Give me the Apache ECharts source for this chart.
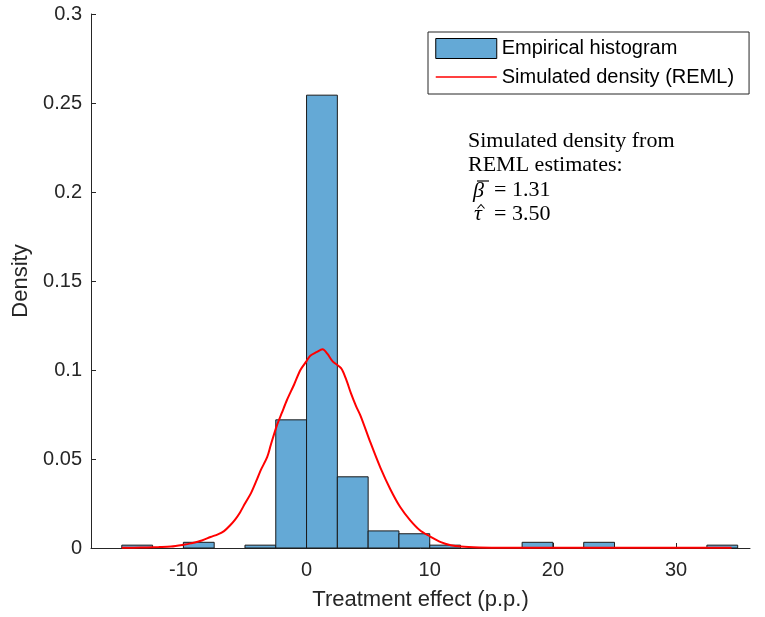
<!DOCTYPE html>
<html>
<head>
<meta charset="utf-8">
<script src="https://cdn.jsdelivr.net/npm/echarts@6/dist/echarts.min.js"></script>
<style>html,body{margin:0;padding:0;background:#fff}#chart{width:765px;height:617px}</style>
</head>
<body>
<div id="chart"></div>
<script>
// Histogram bins (left edge, width 2.5) and densities
const binWidth = 2.5;
const binStarts = [-15, -12.5, -10, -7.5, -5, -2.5, 0, 2.5, 5, 7.5, 10, 12.5, 15, 17.5, 20, 22.5, 25, 27.5, 30, 32.5];
const binDensity = [0.0016, 0, 0.0032, 0, 0.0016, 0.072, 0.2544, 0.04, 0.0096, 0.008, 0.0016, 0, 0, 0.0032, 0, 0.0032, 0, 0, 0, 0.0016];

// Simulated density curve (REML)
const densityX = [-15, -14, -13, -12, -11, -10, -9.4, -8.5, -7.8, -7.2, -6.7, -6.2, -5.8, -5.4, -5, -4.5, -4, -3.7, -3.2, -2.9, -2.4, -2, -1.6, -1, -0.5, 0, 0.3, 0.8, 1.3, 1.7, 2.1, 2.8, 3.2, 3.6, 4, 4.4, 5.2, 6, 6.8, 7.6, 8.4, 9.2, 10, 10.9, 11.7, 12.5, 14, 16, 20, 25, 30, 34.5];
const densityY = [0.0001, 0.0002, 0.0003, 0.0005, 0.0008, 0.0018, 0.0026, 0.0042, 0.0062, 0.0077, 0.0095, 0.0128, 0.016, 0.020, 0.025, 0.031, 0.039, 0.044, 0.051, 0.058, 0.069, 0.076, 0.083, 0.092, 0.100, 0.105, 0.108, 0.110, 0.1116, 0.109, 0.105, 0.101, 0.095, 0.087, 0.080, 0.074, 0.059, 0.045, 0.033, 0.023, 0.0157, 0.010, 0.0066, 0.0033, 0.0016, 0.0008, 0.0003, 0.0001, 0.0001, 0.0001, 0.0001, 0.0001];

const xTicks = [-10, 0, 10, 20, 30];
const xLimits = [-17.5, 36];
const yLimits = [0, 0.3];

const histName = 'Empirical histogram';
const lineName = 'Simulated density (REML)';
const noteText = ['Simulated density from', 'REML estimates:'];
const betaSym = '\u03B2';
const tauSym = '\u03C4';
const betaVal = '= 1.31';
const tauVal = '= 3.50';

const axisColor = '#262626';
const sans = 'Liberation Sans, Arial, Helvetica, sans-serif';
const serif = 'Liberation Serif, DejaVu Serif, serif';

const chart = echarts.init(document.getElementById('chart'), null, {renderer: 'canvas'});

const histData = binStarts.map((s, i) => [s, s + binWidth, binDensity[i]]);
const lineData = densityX.map((x, i) => [x, densityY[i]]);

const noteFont = {fontFamily: serif, fontSize: 22, fill: '#000'};
const graphics = [
  {type: 'text', left: 468, top: 130, style: Object.assign({text: noteText[0]}, noteFont)},
  {type: 'text', left: 468, top: 154, style: Object.assign({text: noteText[1]}, noteFont)},
  {type: 'text', left: 473, top: 180, style: Object.assign({text: betaSym, fontStyle: 'italic'}, noteFont)},
  {type: 'line', shape: {x1: 477, y1: 181, x2: 489, y2: 181}, style: {stroke: '#000', lineWidth: 1.2}},
  {type: 'text', left: 494, top: 179, style: Object.assign({text: betaVal}, noteFont)},
  {type: 'text', left: 474, top: 203, style: Object.assign({text: tauSym, fontStyle: 'italic'}, noteFont)},
  {type: 'polyline', shape: {points: [[477.5, 208.5], [481, 204.5], [484.5, 208.5]]}, style: {stroke: '#000', lineWidth: 1.1, fill: null}},
  {type: 'text', left: 494, top: 203, style: Object.assign({text: tauVal}, noteFont)}
];

const option = {
  backgroundColor: '#fff',
  animation: false,
  grid: {left: 91, right: 15, top: 14, bottom: 69},
  xAxis: {
    type: 'value', min: xLimits[0], max: xLimits[1],
    name: 'Treatment effect (p.p.)', nameLocation: 'middle', nameGap: 41,
    nameTextStyle: {fontFamily: sans, fontSize: 22, color: axisColor},
    axisLine: {show: true, onZero: false, lineStyle: {color: axisColor, width: 1}},
    axisTick: {show: true, inside: true, length: 5, customValues: xTicks, lineStyle: {color: axisColor}},
    axisLabel: {customValues: xTicks, fontFamily: sans, fontSize: 20, color: axisColor, margin: 12},
    splitLine: {show: false}
  },
  yAxis: {
    type: 'value', min: yLimits[0], max: yLimits[1], interval: 0.05,
    name: 'Density', nameLocation: 'middle', nameGap: 56,
    nameTextStyle: {fontFamily: sans, fontSize: 22, color: axisColor},
    axisLine: {show: true, onZero: false, lineStyle: {color: axisColor, width: 1}},
    axisTick: {show: true, inside: true, length: 5, lineStyle: {color: axisColor}},
    axisLabel: {fontFamily: sans, fontSize: 20, color: axisColor, margin: 9},
    splitLine: {show: false}
  },
  legend: {
    left: 428, top: 32, orient: 'vertical',
    backgroundColor: '#fff', borderColor: axisColor, borderWidth: 1,
    padding: [6, 15, 7, 7], itemGap: 8, itemWidth: 61, itemHeight: 20,
    textStyle: {fontFamily: sans, fontSize: 20, color: '#000'},
    data: [
      {name: histName, icon: 'rect', itemStyle: {color: '#64A9D6', borderColor: '#000', borderWidth: 1}},
      {name: lineName, itemStyle: {opacity: 0}, lineStyle: {color: '#ff0000', width: 1.5}}
    ]
  },
  graphic: graphics,
  series: [
    {
      name: histName, type: 'custom', data: histData,
      encode: {x: [0, 1], y: 2},
      itemStyle: {color: '#64A9D6', borderColor: '#000', borderWidth: 1},
      renderItem: function (params, api) {
        if (api.value(2) <= 0) return null;
        const p0 = api.coord([api.value(0), api.value(2)]);
        const p1 = api.coord([api.value(1), 0]);
        return {
          type: 'rect',
          shape: {x: p0[0], y: p0[1], width: p1[0] - p0[0], height: p1[1] - p0[1]},
          style: {fill: '#64A9D6', stroke: '#1a1a1a', lineWidth: 1}
        };
      },
      z: 2
    },
    {
      name: lineName, type: 'line', data: lineData, smooth: 0.3,
      symbol: 'none', lineStyle: {color: '#ff0000', width: 2}, itemStyle: {color: '#ff0000'},
      z: 3
    }
  ]
};
chart.setOption(option);
</script>
</body>
</html>
